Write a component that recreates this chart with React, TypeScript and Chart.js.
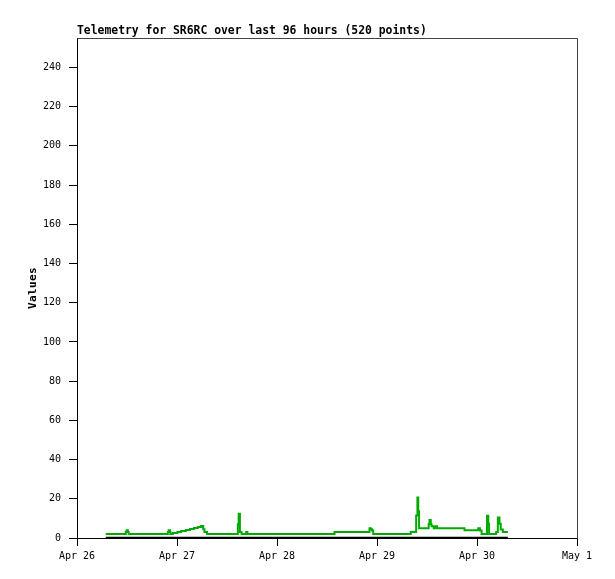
import React, { useEffect, useRef } from "react";
import { Chart, registerables } from "chart.js";

Chart.register(...registerables);

const TITLE = "Telemetry for SR6RC over last 96 hours (520 points)";
const Y_TITLE = "Values";

// x axis: hours since Apr 26 00:00
const xTickHours = [0, 24, 48, 72, 96, 120];
const xTickLabels = ["Apr 26", "Apr 27", "Apr 28", "Apr 29", "Apr 30", "May 1"];
const yTickValues = [0, 20, 40, 60, 80, 100, 120, 140, 160, 180, 200, 220, 240];

const greenHours = [
  6.9, 11.7, 11.9, 12.2, 12.4, 21.8, 22.0, 22.3, 22.4, 23.0, 24.1, 25.0, 26.1,
  27.1, 28.1, 29.0, 29.8, 30.3, 30.6, 31.2, 38.6, 38.8, 39.1, 39.5, 40.6, 40.9,
  61.8, 70.2, 70.5, 70.8, 71.1, 80.1, 81.4, 81.7, 81.9, 82.1, 84.4, 84.6, 84.9,
  85.1, 85.6, 85.9, 86.4, 93.0, 96.3, 96.7, 97.1, 98.4, 98.7, 98.9, 100.6,
  101.0, 101.4, 101.7, 102.2, 103.4,
];
const greenValues = [
  2, 3, 4, 3, 2, 3, 4, 3, 2, 2.5, 3.1, 3.6, 4.1,
  4.6, 5.1, 5.6, 6.1, 4.5, 3, 2, 7, 12.4, 3, 2, 3, 2,
  3, 5, 4.5, 3.8, 2, 3, 11.5, 20.6, 13.7, 5, 7, 9.2, 7,
  6, 5, 6, 5, 4, 5, 3.8, 2, 11.4, 7.3, 2, 3,
  10.4, 7.3, 4.3, 3, 3,
];

const blackHours = [6.9, 103.4];
const blackValues = [0, 0];

const MONO = '"DejaVu Sans Mono", monospace';

const decorPlugin = {
  id: "decor",
  afterDraw(chart: any) {
    const { ctx, chartArea } = chart;
    const { left, top, right, bottom } = chartArea;
    ctx.save();
    ctx.strokeStyle = "#444444";
    ctx.lineWidth = 1;
    ctx.beginPath();
    ctx.moveTo(Math.round(left) + 0.5, Math.round(top) + 0.5);
    ctx.lineTo(Math.round(right) + 0.5, Math.round(top) + 0.5);
    ctx.lineTo(Math.round(right) + 0.5, Math.round(bottom) + 0.5);
    ctx.stroke();

    ctx.fillStyle = "#000";
    ctx.font = `bold 11.4px ${MONO}`;
    ctx.textAlign = "left";
    ctx.textBaseline = "alphabetic";
    ctx.fillText(TITLE, left, 34);

    ctx.font = `bold 11px ${MONO}`;
    (ctx as any).letterSpacing = "0.4px";
    ctx.translate(36, (top + bottom) / 2);
    ctx.rotate(-Math.PI / 2);
    ctx.textAlign = "center";
    ctx.fillText(Y_TITLE, 0, 0);
    ctx.restore();
  },
};

export default function App() {
  const ref = useRef<HTMLCanvasElement>(null);

  useEffect(() => {
    if (!ref.current) return;
    const chart = new Chart(ref.current, {
      type: "line",
      data: {
        datasets: [
          {
            label: "zero",
            data: blackHours.map((h, i) => ({ x: h, y: blackValues[i] })),
            borderColor: "#000000",
            borderWidth: 2.5,
            pointRadius: 0,
            fill: false,
          },
          {
            label: "telemetry",
            data: greenHours.map((h, i) => ({ x: h, y: greenValues[i] })),
            borderColor: "#00aa00",
            borderWidth: 2,
            pointRadius: 0,
            stepped: true,
            fill: false,
          },
        ],
      },
      plugins: [decorPlugin],
      options: {
        animation: false,
        responsive: false,
        devicePixelRatio: 1,
        layout: { padding: { top: 38, right: 38, left: 0, bottom: 0 } },
        plugins: {
          legend: { display: false },
          title: { display: false },
          tooltip: { enabled: false },
        },
        scales: {
          x: {
            type: "linear",
            min: 0,
            max: 120,
            afterBuildTicks: (s: any) => {
              s.ticks = xTickHours.map((v) => ({ value: v }));
            },
            afterFit: (s: any) => {
              s.height = 41;
            },
            ticks: {
              autoSkip: false,
              maxRotation: 0,
              padding: 4,
              color: "#000",
              font: { family: MONO, size: 10 },
              callback: (v: any) => {
                const i = xTickHours.indexOf(Number(v));
                return i >= 0 ? xTickLabels[i] : "";
              },
            },
            grid: {
              drawOnChartArea: false,
              drawTicks: true,
              tickLength: 8,
              color: "#000",
            },
            border: { display: true, color: "#000", width: 1 },
          },
          y: {
            type: "linear",
            min: 0,
            max: 255,
            afterBuildTicks: (s: any) => {
              s.ticks = yTickValues.map((v) => ({ value: v }));
            },
            afterFit: (s: any) => {
              s.width = 77;
            },
            ticks: {
              autoSkip: false,
              padding: 8,
              color: "#000",
              font: { family: MONO, size: 10 },
            },
            grid: {
              drawOnChartArea: false,
              drawTicks: true,
              tickLength: 8,
              color: "#000",
            },
            border: { display: true, color: "#000", width: 1 },
          },
        },
      },
    });
    return () => chart.destroy();
  }, []);

  return (
    <div
      style={{
        position: "absolute",
        left: 0,
        top: 0,
        width: 615,
        height: 579,
        background: "#fff",
      }}
    >
      <canvas ref={ref} width={615} height={579} />
    </div>
  );
}
